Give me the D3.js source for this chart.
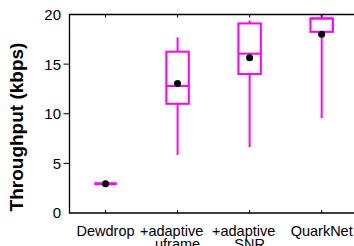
<!DOCTYPE html>
<html>
<head>
<meta charset="utf-8">
<script src="https://cdn.jsdelivr.net/npm/d3@7"></script>
<style>
  body { margin: 0; background: #fff; }
  svg { display: block; font-family: "Liberation Sans", Arial, sans-serif; }
</style>
</head>
<body>
<div id="chart"></div>
<script>
// box plot values (kbps)
var categories = ["Dewdrop", "+adaptive uframe", "+adaptive SNR", "QuarkNet"];
var labelLines = [["Dewdrop"], ["+adaptive", "uframe"], ["+adaptive", "SNR"], ["QuarkNet"]];
var whiskerLow  = [2.95, 5.85, 6.65, 9.55];
var q1          = [2.95, 11.0, 14.0, 18.25];
var median      = [2.95, 12.8, 16.05, 19.6];
var q3          = [2.95, 16.25, 19.1, 19.6];
var whiskerHigh = [2.95, 17.7, 19.4, 20];
var mean        = [2.95, 13.05, 15.65, 18.0];
var yTicks = [0, 5, 10, 15, 20];

var W = 354, H = 246;
var plotLeft = 69.5, plotTop = 14.5, plotBottom = 213, plotRight = 357.7;

var x = d3.scalePoint().domain(categories).range([plotLeft, plotRight]).padding(0.5);
var y = d3.scaleLinear().domain([0, 20]).range([plotBottom, plotTop]);

var svg = d3.select("#chart").append("svg")
  .attr("width", W)
  .attr("height", H);

var boxes = categories.map(function(c, i) {
  return { cat: c, lo: whiskerLow[i], q1: q1[i], med: median[i], q3: q3[i], hi: whiskerHigh[i], mean: mean[i] };
});

var magenta = "#ff00ff";
var boxW = 22.5;

// whiskers, boxes, medians
var g = svg.append("g");
boxes.forEach(function(d) {
  var cx = x(d.cat);
  if (d.hi > d.lo) {
    g.append("line").attr("x1", cx).attr("x2", cx).attr("y1", y(d.q1)).attr("y2", y(d.lo))
      .attr("stroke", magenta).attr("stroke-width", 2);
    g.append("line").attr("x1", cx).attr("x2", cx).attr("y1", y(d.q3)).attr("y2", y(d.hi))
      .attr("stroke", magenta).attr("stroke-width", 2);
    g.append("rect").attr("x", cx - boxW / 2).attr("width", boxW)
      .attr("y", y(d.q3)).attr("height", y(d.q1) - y(d.q3))
      .attr("fill", "none").attr("stroke", magenta).attr("stroke-width", 2);
    g.append("line").attr("x1", cx - boxW / 2).attr("x2", cx + boxW / 2)
      .attr("y1", y(d.med)).attr("y2", y(d.med))
      .attr("stroke", magenta).attr("stroke-width", 2);
  } else {
    // everything collapsed onto one value
    g.append("line").attr("x1", cx - boxW / 2).attr("x2", cx + boxW / 2)
      .attr("y1", y(d.med)).attr("y2", y(d.med))
      .attr("stroke", magenta).attr("stroke-width", 3);
  }
});

// mean dots
svg.selectAll(".mean").data(boxes).enter().append("circle")
  .attr("class", "mean")
  .attr("cx", function(d) { return x(d.cat); })
  .attr("cy", function(d) { return y(d.mean); })
  .attr("r", 3.5)
  .attr("fill", "#000");

// frame: top, left axis, bottom
svg.append("path")
  .attr("d", "M" + plotRight + "," + plotTop + "H" + plotLeft + "V" + plotBottom + "H" + plotRight)
  .attr("fill", "none").attr("stroke", "#000").attr("stroke-width", 1.3);

// x ticks (inward, top and bottom)
categories.forEach(function(c) {
  svg.append("line").attr("x1", x(c)).attr("x2", x(c)).attr("y1", plotBottom).attr("y2", plotBottom - 3)
    .attr("stroke", "#000");
  svg.append("line").attr("x1", x(c)).attr("x2", x(c)).attr("y1", plotTop).attr("y2", plotTop + 3)
    .attr("stroke", "#000");
});

// y ticks and labels
yTicks.forEach(function(t) {
  if (t > 0 && t < 20) {
    svg.append("line").attr("x1", plotLeft - 6).attr("x2", plotLeft).attr("y1", y(t)).attr("y2", y(t))
      .attr("stroke", "#000");
  }
  svg.append("text")
    .attr("x", 61)
    .attr("y", y(t))
    .attr("dy", "0.36em")
    .attr("text-anchor", "end")
    .style("font-size", "15px")
    .text(t);
});

// x labels
labelLines.forEach(function(lines, i) {
  var cx = x(categories[i]);
  lines.forEach(function(s, j) {
    svg.append("text")
      .attr("x", cx + (lines.length > 1 && j === 0 ? -6 : 0))
      .attr("y", 236 + j * 13)
      .attr("text-anchor", "middle")
      .style("font-size", "14.5px")
      .text(s);
  });
});

// y axis title
svg.append("text")
  .attr("transform", "translate(23,127) rotate(-90)")
  .attr("text-anchor", "middle")
  .style("font-size", "19px")
  .style("font-weight", "bold")
  .text("Throughput (kbps)");
</script>
</body>
</html>
